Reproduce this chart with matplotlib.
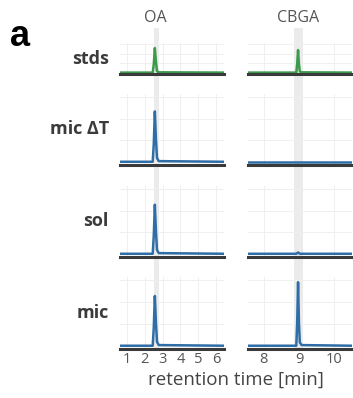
import matplotlib
matplotlib.use("Agg")
import matplotlib.pyplot as plt
import matplotlib.transforms as mtransforms

plt.rcParams['font.family'] = ['Open Sans', 'DejaVu Sans']

# data (relative intensity, row max ~ 1)
rows = ['stds', 'mic ΔT', 'sol', 'mic']
row_colors = ['#3d9a4b', '#2f6da6', '#2f6da6', '#2f6da6']

oa_time = [0.6, 2.44, 2.50, 2.56, 2.62, 2.68, 2.78, 6.45]
stds_oa = [0, 0, 0.30, 0.87, 0.40, 0.05, 0.01, 0]
micdt_oa = [0, 0, 0.28, 0.78, 0.36, 0.06, 0.01, 0]
sol_oa = [0, 0, 0.28, 0.76, 0.36, 0.06, 0.01, 0]
mic_oa = [0, 0, 0.28, 0.76, 0.36, 0.06, 0.01, 0]

cbga_time = [7.55, 8.92, 8.945, 8.97, 8.995, 9.02, 9.07, 10.5]
stds_cbga = [0, 0, 0.30, 0.80, 0.30, 0.04, 0.01, 0]
micdt_cbga = [0, 0, 0, 0, 0, 0, 0, 0]
sol_cbga = [0, 0, 0.01, 0.02, 0.01, 0, 0, 0]
mic_cbga = [0, 0, 0.35, 0.97, 0.35, 0.05, 0.01, 0]

oa_traces = [stds_oa, micdt_oa, sol_oa, mic_oa]
cbga_traces = [stds_cbga, micdt_cbga, sol_cbga, mic_cbga]

oa_ticks = [1, 2, 3, 4, 5, 6]
cbga_ticks = [8, 9, 10]
oa_band = (2.50, 2.77)
cbga_band = (8.86, 9.11)
oa_peak = 2.56
cbga_peak = 8.97

W, H = 353, 398
fig = plt.figure(figsize=(W / 100, H / 100), dpi=100)

def box(x0, x1, ytop, ybot):
    return [x0 / W, 1 - ybot / H, (x1 - x0) / W, (ybot - ytop) / H]

cols = [(120, 224, oa_time, oa_traces, oa_ticks, oa_band, (0.6, 6.45)),
        (248, 352, cbga_time, cbga_traces, cbga_ticks, cbga_band, (7.55, 10.5))]
row_px = [(43, 74), (94, 165), (186, 257), (277, 349)]

# grey band running through the whole column
for x0, x1, t, traces, ticks, band, xl in cols:
    bg = fig.add_axes(box(x0, x1, 28, 349), zorder=0)
    bg.set_xlim(xl)
    bg.axvspan(band[0], band[1], color='#ebebeb', lw=0)
    bg.axis('off')

top_axes = []
for c, (x0, x1, t, traces, ticks, band, xl) in enumerate(cols):
    for r, (yt, yb) in enumerate(row_px):
        ax = fig.add_axes(box(x0, x1, yt, yb), zorder=1)
        ax.patch.set_alpha(0)
        ax.set_xlim(xl)
        ax.set_ylim(-0.05, 1.05)
        ax.set_xticks(ticks)
        ax.set_yticks([0, 1 / 3, 2 / 3, 1])
        ax.grid(True, color='#efefef', lw=0.7)
        ax.set_axisbelow(True)
        for s in ['top', 'right', 'left']:
            ax.spines[s].set_visible(False)
        ax.spines['bottom'].set_color('#3a3a3a')
        ax.spines['bottom'].set_linewidth(2.2)
        ax.plot(t, traces[r], color=row_colors[r], lw=1.8, solid_joinstyle='round')
        ax.tick_params(length=0, labelleft=False, pad=2,
                       labelsize=10.5, labelcolor='#555555')
        if r < 3:
            ax.tick_params(labelbottom=False)
        if r == 0:
            top_axes.append(ax)
        if c == 0:
            fig.text(109 / W, 1 - (yt + yb) / 2 / H, rows[r], ha='right', va='center',
                     fontsize=13, fontweight='bold', color='#3b3b3b')

for ax, name, px in zip(top_axes, ['OA', 'CBGA'], [oa_peak, cbga_peak]):
    tr = mtransforms.blended_transform_factory(ax.transData, fig.transFigure)
    ax.text(px, 1 - 18 / H, name, transform=tr, ha='center', va='center',
            fontsize=11.5, color='#555555')

fig.text(236 / W, 1 - 380 / H, 'retention time [min]', ha='center', va='center',
         fontsize=13.5, color='#444444')
fig.text(10 / W, 1 - 37 / H, 'a', ha='left', va='center', fontsize=26,
         fontweight='bold', family=['Liberation Sans', 'DejaVu Sans'], color='black')

fig.savefig('out.png', dpi=100)
